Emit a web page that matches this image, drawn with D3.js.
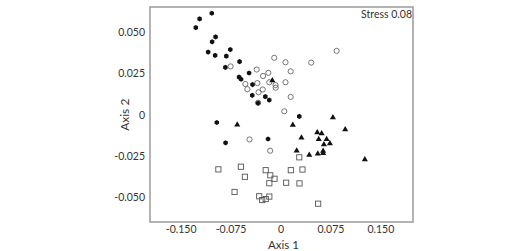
<!DOCTYPE html>
<html>
<head>
<meta charset="utf-8">
<script src="https://cdn.jsdelivr.net/npm/d3@7"></script>
<style>
  html, body { margin: 0; padding: 0; background: #fff; }
  svg { display: block; }
  text { font-family: Lato, "Open Sans", sans-serif; fill: #333; }
</style>
</head>
<body>
<svg id="chart" width="528" height="251"></svg>
<script>
// ---- data (NMDS coordinates) ----
const filledX = [-0.1032,-0.1215,-0.1272,-0.0975,-0.1027,-0.0754,-0.1087,-0.0982,-0.0814,-0.0615,-0.0828,-0.0622,-0.0592,-0.0472,-0.0420,-0.0424,-0.0337,-0.0228,-0.0169,0.0282,-0.0957,-0.0825,-0.0187];
const filledY = [0.0615,0.0581,0.0528,0.0472,0.0442,0.0395,0.0380,0.0360,0.0355,0.0322,0.0287,0.0228,0.0215,0.0253,0.0183,0.0118,0.0071,0.0110,0.0089,-0.0010,-0.0047,-0.0170,-0.0147];

const circleX = [-0.0750,-0.0357,-0.0183,-0.0262,-0.0094,0.0075,0.0462,0.0843,0.0153,-0.0528,-0.0348,-0.0168,-0.0075,-0.0072,0.0075,-0.0498,-0.0330,-0.0267,0.0153,-0.0337,0.0057,-0.0465,-0.0155];
const circleY = [0.0293,0.0274,0.0254,0.0235,0.0345,0.0318,0.0316,0.0387,0.0263,0.0186,0.0192,0.0197,0.0180,0.0164,0.0197,0.0155,0.0136,0.0153,0.0108,0.0073,0.0021,-0.0150,-0.0218];

const triangleX = [-0.0123,-0.0650,0.0185,0.0787,0.0972,0.0315,0.0552,0.0618,0.0574,0.0693,0.0742,0.0652,0.0243,0.0432,0.0560,0.0640,0.0640,0.1267];
const triangleY = [0.0210,-0.0059,-0.0061,-0.0015,-0.0088,-0.0137,-0.0106,-0.0112,-0.0146,-0.0147,-0.0173,-0.0179,-0.0217,-0.0242,-0.0234,-0.0231,-0.0218,-0.0270];

const squareX = [-0.0933,-0.0595,-0.0535,-0.0690,-0.0222,-0.0153,-0.0090,-0.0168,0.0085,0.0155,0.0330,0.0282,0.0285,0.0565,-0.0320,-0.0275,-0.0222,-0.0168];
const squareY = [-0.0331,-0.0315,-0.0376,-0.0468,-0.0336,-0.0367,-0.0388,-0.0415,-0.0412,-0.0336,-0.0332,-0.0258,-0.0416,-0.0539,-0.0494,-0.0517,-0.0511,-0.0496];

const xTicks = [-0.150, -0.075, 0, 0.075, 0.150];
const xTickLabels = ["-0.150", "-0.075", "0", "0.075", "0.150"];
const yTicks = [0.050, 0.025, 0, -0.025, -0.050];
const yTickLabels = ["0.050", "0.025", "0", "-0.025", "-0.050"];
const xTitle = "Axis 1";
const yTitle = "Axis 2";
const stressLabel = "Stress 0.08";

// ---- layout ----
const box = { left: 150, right: 413, top: 7, bottom: 222 };
const svg = d3.select("#chart");

const x = d3.scaleLinear().domain([-0.196, 0.199]).range([box.left, box.right]);
const y = d3.scaleLinear().domain([-0.065, 0.0653]).range([box.bottom, box.top]);

// frame
svg.append("rect")
  .attr("x", box.left).attr("y", box.top)
  .attr("width", box.right - box.left).attr("height", box.bottom - box.top)
  .attr("fill", "none").attr("stroke", "#a0a0a0").attr("stroke-width", 1.6);

// axes (labels only, no tick marks)
const xAxis = d3.axisBottom(x).tickValues(xTicks)
  .tickFormat((d, i) => xTickLabels[i]).tickSize(0).tickPadding(3.5);
const gx = svg.append("g").attr("transform", `translate(0,${box.bottom})`).call(xAxis);
gx.select(".domain").remove();
gx.selectAll("text").style("font-size", "10.5px").style("fill", "#333")
  .style("font-family", "Lato, 'Open Sans', sans-serif");

const yAxis = d3.axisLeft(y).tickValues(yTicks)
  .tickFormat((d, i) => yTickLabels[i]).tickSize(0).tickPadding(5);
const gy = svg.append("g").attr("transform", `translate(${box.left},0)`).call(yAxis);
gy.select(".domain").remove();
gy.selectAll("text").style("font-size", "10.5px").style("fill", "#333")
  .style("font-family", "Lato, 'Open Sans', sans-serif");

// titles
svg.append("text").attr("x", x(0) + 3).attr("y", 248.5)
  .attr("text-anchor", "middle").style("font-size", "11.5px").text(xTitle);
svg.append("text")
  .attr("transform", `translate(${129},${y(0)}) rotate(-90)`)
  .attr("text-anchor", "middle").style("font-size", "12px").text(yTitle);

svg.append("text").attr("x", box.right - 1).attr("y", 18)
  .attr("text-anchor", "end").style("font-size", "10.5px").text(stressLabel);

// ---- marks ----
const plot = svg.append("g");

const sq = d3.zip(squareX, squareY);
plot.selectAll("rect.sq").data(sq).join("rect").attr("class", "sq")
  .attr("x", d => x(d[0]) - 2.6).attr("y", d => y(d[1]) - 2.6)
  .attr("width", 5.2).attr("height", 5.2)
  .attr("fill", "none").attr("stroke", "#555").attr("stroke-width", 0.9);

const ci = d3.zip(circleX, circleY);
plot.selectAll("circle.oc").data(ci).join("circle").attr("class", "oc")
  .attr("cx", d => x(d[0])).attr("cy", d => y(d[1])).attr("r", 2.6)
  .attr("fill", "none").attr("stroke", "#666").attr("stroke-width", 0.9);

const tri = d3.zip(triangleX, triangleY);
const triPath = d3.symbol().type(d3.symbolTriangle).size(16);
plot.selectAll("path.tr").data(tri).join("path").attr("class", "tr")
  .attr("transform", d => `translate(${x(d[0])},${y(d[1]) + 0.3})`)
  .attr("d", triPath).attr("fill", "#111");

const fi = d3.zip(filledX, filledY);
const hex = d3.line().curve(d3.curveLinearClosed);
const hexPts = d3.range(6).map(i => [2.6 * Math.cos(Math.PI / 3 * i + Math.PI / 6), 2.6 * Math.sin(Math.PI / 3 * i + Math.PI / 6)]);
plot.selectAll("path.fh").data(fi).join("path").attr("class", "fh")
  .attr("transform", d => `translate(${x(d[0])},${y(d[1])})`)
  .attr("d", hex(hexPts)).attr("fill", "#111");
</script>
</body>
</html>
